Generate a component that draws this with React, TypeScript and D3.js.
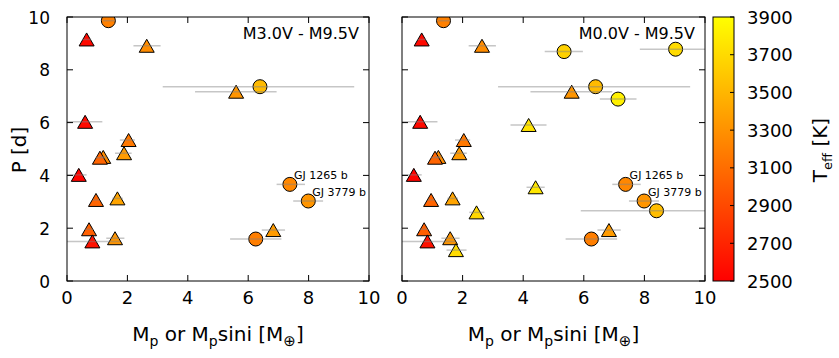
import React from "react";
import * as d3 from "d3";

// marker: "t" = triangle (transit), "c" = circle (RV)
const shape = ["c","t","t","t","c","t","t","t","t","t","t","t","t","t","t","t","c","c","c","t","c","c","c","t","t","t","t","c"];
const massEarth = [1.37,0.65,2.64,5.6,6.39,0.6,2.04,1.89,1.2,1.09,0.39,0.96,1.67,0.73,0.84,1.59,7.38,7.99,6.25,6.83,5.35,9.03,7.13,4.18,4.41,2.46,1.78,8.4];
const massLo = [1.18,0.5,2.2,4.24,3.17,0,1.75,1.59,1.1,0.95,0,0.85,1.5,0.6,0,1.3,6.94,7.49,5.4,6.45,4.71,7.85,6.53,3.58,4.11,2.22,1.47,5.9];
const massHi = [1.59,0.8,3.1,6.94,9.51,1.17,2.25,2.14,1.3,1.25,0.65,1.07,1.85,0.86,1.75,1.9,7.88,8.48,7.1,7.22,5.97,11,7.74,4.77,4.71,2.72,2.13,11];
const periodDays = [9.86,9.15,8.91,7.17,7.36,6.03,5.34,4.84,4.7,4.67,4.02,3.07,3.13,1.96,1.5,1.62,3.66,3.03,1.59,1.93,8.69,8.78,6.89,5.91,3.55,2.6,1.17,2.66];
const teffK = [3200,2550,3270,3320,3520,2550,3160,3350,3270,3050,2520,3050,3400,3020,2600,3320,3240,3320,3190,3350,3650,3700,3820,3740,3760,3680,3700,3540];
const lateType = [true,true,true,true,true,true,true,true,true,true,true,true,true,true,true,true,true,true,true,true,false,false,false,false,false,false,false,false];

const namedPlanets = ["GJ 1265 b", "GJ 3779 b"];
const namedIdx = [16, 17];

const xTicks = [0, 2, 4, 6, 8, 10];
const yTicks = [0, 2, 4, 6, 8, 10];
const cbTicks = [2500, 2700, 2900, 3100, 3300, 3500, 3700, 3900];
const panelLabels = ["M3.0V - M9.5V", "M0.0V - M9.5V"];

const FONT = "DejaVu Sans, sans-serif";
const yTop = 17, yBot = 281;
const panelX = [[67, 369], [402, 705]];
const cbX0 = 713, cbX1 = 734;

const color = d3.scaleLinear<string>().domain([2500, 3900]).range(["#ff0000", "#ffff00"]).clamp(true);
const yScale = d3.scaleLinear().domain([0, 10]).range([yBot, yTop]);
const cbScale = d3.scaleLinear().domain([2500, 3900]).range([yBot, yTop]);

function Panel({ idx }: { idx: number }) {
  const [x0, x1] = panelX[idx];
  const x = d3.scaleLinear().domain([0, 10]).range([x0, x1]);
  const pts = d3.range(massEarth.length).filter(i => idx === 1 || lateType[i]);
  const clipId = `clip${idx}`;
  return (
    <g>
      <defs>
        <clipPath id={clipId}>
          <rect x={x0} y={yTop} width={x1 - x0} height={yBot - yTop} />
        </clipPath>
      </defs>
      <g clipPath={`url(#${clipId})`}>
        {pts.map(i => {
          const cx = x(massEarth[i]);
          const cy = yScale(periodDays[i]);
          const fill = color(teffK[i]);
          return shape[i] === "c" ? (
            <circle key={i} cx={cx} cy={cy} r={7} fill={fill} stroke="#000" strokeWidth={1} />
          ) : (
            <path key={i} d={`M${cx},${cy - 6.5}L${cx + 7.5},${cy + 6.5}L${cx - 7.5},${cy + 6.5}Z`} fill={fill} stroke="#000" strokeWidth={1} strokeLinejoin="miter" />
          );
        })}
        {pts.map(i => (
          <line key={"e" + i} x1={x(massLo[i])} x2={x(massHi[i])} y1={yScale(periodDays[i])} y2={yScale(periodDays[i])}
            stroke="#808080" strokeOpacity={0.45} strokeWidth={1.5} />
        ))}
      </g>
      <rect x={x0} y={yTop} width={x1 - x0} height={yBot - yTop} fill="none" stroke="#000" strokeWidth={1} />
      {xTicks.map(t => (
        <g key={"x" + t}>
          <line x1={x(t)} x2={x(t)} y1={yBot} y2={yBot - 6} stroke="#000" />
          <line x1={x(t)} x2={x(t)} y1={yTop} y2={yTop + 6} stroke="#000" />
          <text x={x(t)} y={304} fontSize={18} fontFamily={FONT} textAnchor="middle">{t}</text>
        </g>
      ))}
      {yTicks.map(t => (
        <g key={"y" + t}>
          <line x1={x0} x2={x0 + 6} y1={yScale(t)} y2={yScale(t)} stroke="#000" />
          <line x1={x1} x2={x1 - 6} y1={yScale(t)} y2={yScale(t)} stroke="#000" />
          {idx === 0 && (
            <text x={50} y={yScale(t) + 6.5} fontSize={17} fontFamily={FONT} textAnchor="end">{t}</text>
          )}
        </g>
      ))}
      <text x={x1 - 10} y={39.3} fontSize={16} fontFamily={FONT} textAnchor="end">{panelLabels[idx]}</text>
      {namedIdx.map((i, k) => (
        <text key={"n" + k} x={x(massEarth[i]) + 4} y={yScale(periodDays[i]) - 5.5} fontSize={11} fontFamily={FONT}>{namedPlanets[k]}</text>
      ))}
      <text x={(x0 + x1) / 2} y={341} fontSize={20} fontFamily={FONT} textAnchor="middle">
        M<tspan fontSize={14} dy={5}>p</tspan><tspan dy={-5}> or M</tspan><tspan fontSize={14} dy={5}>p</tspan><tspan dy={-5}>sini [M</tspan><tspan fontSize={15} dy={5}>⊕</tspan><tspan dy={-5}>]</tspan>
      </text>
    </g>
  );
}

export default function App() {
  return (
    <svg width={839} height={358} style={{ position: "absolute", left: 0, top: 0, background: "#fff" }}>
      <defs>
        <linearGradient id="cbgrad" x1="0" y1="1" x2="0" y2="0">
          <stop offset="0" stopColor={color(2500)} />
          <stop offset="1" stopColor={color(3900)} />
        </linearGradient>
      </defs>
      <rect x={0} y={0} width={839} height={358} fill="#fff" />
      <Panel idx={0} />
      <Panel idx={1} />
      <rect x={cbX0} y={yTop} width={cbX1 - cbX0} height={yBot - yTop} fill="url(#cbgrad)" stroke="#000" strokeWidth={1} />
      {cbTicks.map(t => (
        <g key={"c" + t}>
          <line x1={cbX1} x2={cbX1 - 4} y1={cbScale(t)} y2={cbScale(t)} stroke="#000" />
          <text x={747} y={cbScale(t) + 6.5} fontSize={18} fontFamily={FONT}>{t}</text>
        </g>
      ))}
      <text transform={`translate(827,150) rotate(-90)`} fontSize={20} fontFamily={FONT} textAnchor="middle">
        T<tspan fontSize={13} dy={5}>eff</tspan><tspan dy={-5}> [K]</tspan>
      </text>
      <text transform={`translate(26,150) rotate(-90)`} fontSize={20} fontFamily={FONT} textAnchor="middle">P [d]</text>
    </svg>
  );
}
